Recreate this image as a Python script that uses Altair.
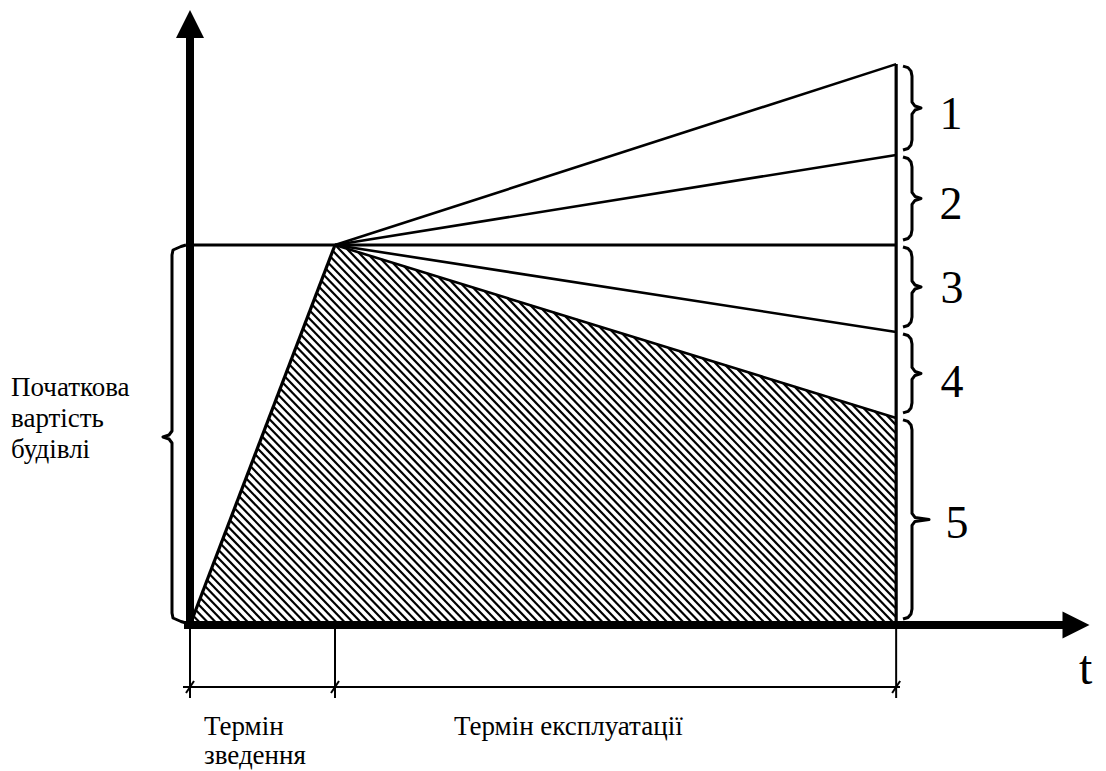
import altair as alt
import numpy as np
import pandas as pd

# ---- values (schematic units: time in construction periods, value in initial-cost units)
t_build = 1.0
t_end = 4.87
initial_cost = 1.0
end_levels = [1.476, 1.237, 1.0, 0.771, 0.545]   # value at end of service, scenarios 1..5
segment_labels = ["1", "2", "3", "4", "5"]
axis_label_t = "t"
cost_label = ["Початкова", "вартість", "будівлі"]
build_label = ["Термін", "зведення"]
service_label = "Термін експлуатації"

# ---- layout (page pixels -> data units)
OX, OY = 190, 625
SX, SY = 145, 380
W, H = 1090, 763
def X(p): return (p - OX) / SX
def Y(p): return (OY - p) / SY
def PX(t): return OX + t * SX
def PY(v): return OY - v * SY

xs = alt.Scale(domain=[X(8), X(8 + W)], nice=False, zero=False)
ys = alt.Scale(domain=[Y(8 + H), Y(8)], nice=False, zero=False)
FONT = "Liberation Serif"
INK = "#000000"

def rules(df, width, cap="butt"):
    return alt.Chart(df).mark_rule(strokeWidth=width, color=INK, strokeCap=cap).encode(
        x=alt.X("x:Q", scale=xs, axis=None),
        y=alt.Y("y:Q", scale=ys, axis=None),
        x2="x2:Q", y2="y2:Q")

# ---- hatch inside residual-value polygon
poly = np.array([[0, 0], [t_build * SX, initial_cost * SY],
                 [t_end * SX, end_levels[4] * SY], [t_end * SX, 0]])
a = np.radians(46)
n = np.array([np.sin(a), np.cos(a)])
u = np.array([np.cos(a), -np.sin(a)])
proj = poly @ n
segs = []
for c in np.arange(proj.min() + 3, proj.max(), 5.8):
    pts = []
    for k in range(4):
        A = poly[k]; B = poly[(k + 1) % 4]
        fa = A @ n - c; fb = B @ n - c
        if fa * fb <= 0 and fa != fb:
            pts.append(A + (B - A) * fa / (fa - fb))
    if len(pts) >= 2:
        pts = np.array(pts); s = pts @ u
        p = pts[s.argmin()]; q = pts[s.argmax()]
        segs.append((p[0] / SX, p[1] / SY, q[0] / SX, q[1] / SY))
hatch = pd.DataFrame(segs, columns=["x", "y", "x2", "y2"])

# ---- main lines
fan = pd.DataFrame([(t_build, initial_cost, t_end, end_levels[i]) for i in (0, 1, 3, 4)],
                   columns=["x", "y", "x2", "y2"])
thick = pd.DataFrame([
    (0, initial_cost, t_end, end_levels[2]),       # horizontal initial cost line
    (0, 0, t_build, initial_cost),                 # construction rise
    (t_end, 0, t_end, end_levels[0]),              # end-of-service vertical
], columns=["x", "y", "x2", "y2"])

yaxis = pd.DataFrame([(0, Y(629), 0, Y(32))], columns=["x", "y", "x2", "y2"])
xaxis = pd.DataFrame([(X(184), 0, X(1068), 0)], columns=["x", "y", "x2", "y2"])

dim_y = Y(687)
ext = pd.DataFrame([(t, 0, t, Y(698)) for t in (0, t_build, t_end)],
                   columns=["x", "y", "x2", "y2"])
dim = pd.DataFrame([(X(183), dim_y, X(900), dim_y)], columns=["x", "y", "x2", "y2"])
ticks = pd.DataFrame([(t - 4 / SX, dim_y - 6 / SY, t + 4 / SX, dim_y + 6 / SY)
                      for t in (0, t_build, t_end)], columns=["x", "y", "x2", "y2"])

# ---- arrows
arrow_up = pd.DataFrame({"x": [0.0], "y": [Y(24)]})
arrow_right = pd.DataFrame({"x": [X(1076)], "y": [0.0]})

def arrow(df, shape, size):
    return alt.Chart(df).mark_point(shape=shape, size=size, filled=True, color=INK, opacity=1,
                                    strokeWidth=0).encode(
        x=alt.X("x:Q", scale=xs, axis=None), y=alt.Y("y:Q", scale=ys, axis=None))

# ---- braces
def right_brace(bid, x0, x1, x2, top, bot):
    mid = (top + bot) / 2
    pts = [(x0, top), (x0 + 5, top + 1.5), (x1 - 1, top + 5), (x1, top + 10),
           (x1, mid - 6), (x1 + 3, mid - 2), (x2, mid), (x1 + 3, mid + 2), (x1, mid + 6),
           (x1, bot - 10), (x1 - 1, bot - 5), (x0 + 5, bot - 1.5), (x0, bot)]
    return [(bid, i, X(px), Y(py)) for i, (px, py) in enumerate(pts)]

def left_brace(bid, x0, x1, x2, top, bot, mid):
    pts = [(x0, top), (x0 - 5, top + 1.5), (x1 + 1, top + 5), (x1, top + 10),
           (x1, mid - 6), (x1 - 3, mid - 2), (x2, mid), (x1 - 3, mid + 2), (x1, mid + 6),
           (x1, bot - 10), (x1 + 1, bot - 5), (x0 - 5, bot - 1.5), (x0, bot)]
    return [(bid, i, X(px), Y(py)) for i, (px, py) in enumerate(pts)]

bounds = [PY(v) for v in end_levels] + [PY(0)]
rows = []
for i in range(5):
    top = bounds[i] + 2
    bot = bounds[i + 1] - (6 if i == 4 else 5)
    tip = 929 if i == 4 else 921
    rows += right_brace(i, 903, 912, tip, top, bot)
rows += left_brace(9, 186, 172, 163, PY(initial_cost), PY(0) - 2, 437)
braces = pd.DataFrame(rows, columns=["b", "i", "x", "y"])
brace_layer = alt.Chart(braces).mark_line(strokeWidth=3, color=INK, strokeJoin="round").encode(
    x=alt.X("x:Q", scale=xs, axis=None), y=alt.Y("y:Q", scale=ys, axis=None),
    detail="b:N", order="i:Q")

# ---- texts
digit_pos = [(951, 129), (951, 219), (952, 303), (952, 397), (957, 538)]
digits = pd.DataFrame({"x": [X(p[0]) for p in digit_pos], "y": [Y(p[1]) for p in digit_pos],
                       "text": segment_labels})
digit_layer = alt.Chart(digits).mark_text(font=FONT, fontSize=46, align="center",
                                          baseline="alphabetic", color=INK).encode(
    x=alt.X("x:Q", scale=xs, axis=None), y=alt.Y("y:Q", scale=ys, axis=None), text="text:N")

labels = pd.DataFrame({
    "x": [X(11)] * 3 + [X(204)] * 2 + [X(454), X(1079)],
    "y": [Y(396), Y(427), Y(458), Y(735), Y(764), Y(735), Y(684)],
    "text": cost_label + build_label + [service_label, axis_label_t],
    "fs": [27, 27, 27, 27, 27, 27, 48],
})
label_layer = alt.Chart(labels).mark_text(font=FONT, align="left", baseline="alphabetic",
                                          color=INK).encode(
    x=alt.X("x:Q", scale=xs, axis=None), y=alt.Y("y:Q", scale=ys, axis=None), text="text:N",
    size=alt.Size("fs:Q", scale=None, legend=None))

chart = alt.layer(
    rules(hatch, 2.2),
    rules(fan, 2.6),
    rules(thick, 3.2),
    rules(ext, 2),
    rules(dim, 2),
    rules(ticks, 2),
    rules(yaxis, 8),
    rules(xaxis, 8),
    arrow(arrow_up, "M-1,1L1,1L0,-1Z", 784),
    arrow(arrow_right, "M-1,-1L1,0L-1,1Z", 729),
    brace_layer,
    digit_layer,
    label_layer,
).properties(width=W, height=H, padding=0, autosize=alt.AutoSizeParams(type="none"),
             background="white").configure_view(stroke=None)

chart.save("out.html", embed_options={"renderer": "svg", "actions": False})
